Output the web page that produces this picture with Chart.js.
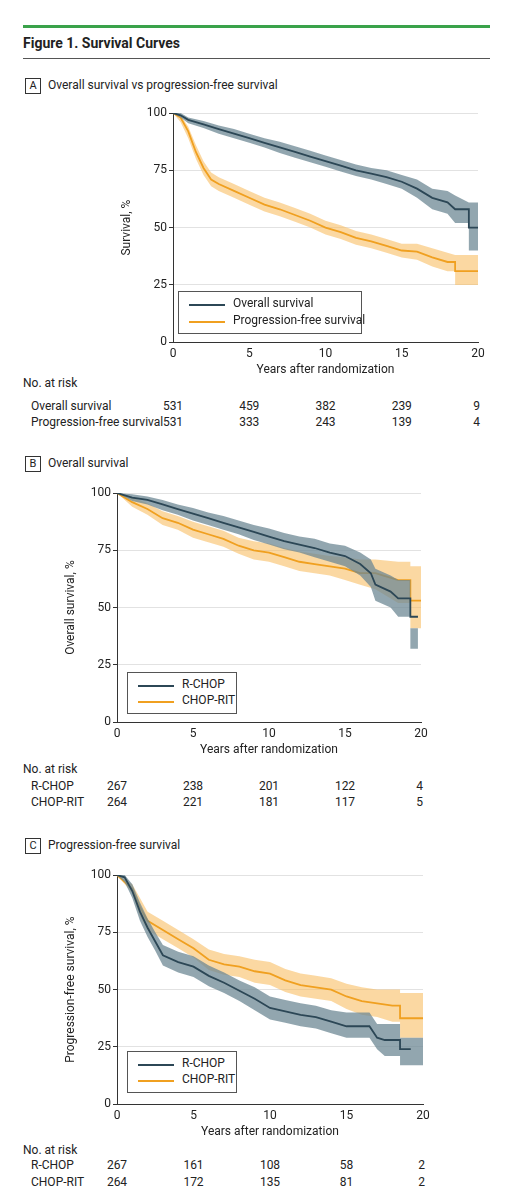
<!DOCTYPE html>
<html><head><meta charset="utf-8">
<script src="https://cdn.jsdelivr.net/npm/chart.js@4"></script>
<style>
body{margin:0;width:511px;height:1200px;background:#fff;font-family:Roboto,"Liberation Sans",sans-serif;color:#222;position:relative;font-size:12px}
.a{position:absolute;white-space:nowrap}
.lab{position:absolute;border:1px solid #333;width:14px;height:14px;text-align:center;line-height:14px;font-size:11px}
.leg{position:absolute;border:1px solid #555;background:#fff}
.leg div{position:absolute;font-size:12px;white-space:nowrap}
.leg span{position:absolute;width:36px;height:2px}
canvas{position:absolute}
.c{transform:translateX(-50%)}
</style></head><body>
<div class="a" style="left:23px;top:25px;width:467px;height:3px;background:#3aa24a"></div>
<div class="a" style="left:23px;top:35px;font-weight:bold;font-size:14px">Figure 1. Survival Curves</div>
<div class="a" style="left:23px;top:58px;width:467px;height:1px;background:#555"></div>

<div class="lab" style="left:25px;top:78px">A</div><div class="a" style="left:48px;top:78px">Overall survival vs progression-free survival</div>
<div class="lab" style="left:25px;top:456px">B</div><div class="a" style="left:48px;top:456px">Overall survival</div>
<div class="lab" style="left:25px;top:838px">C</div><div class="a" style="left:48px;top:838px">Progression-free survival</div>

<canvas id="cA" style="left:120px;top:100px"></canvas>
<canvas id="cB" style="left:64px;top:480px"></canvas>
<canvas id="cC" style="left:64px;top:862px"></canvas>

<div class="leg" style="left:178px;top:291px;width:182px;height:41px">
<span style="left:10px;top:12px;background:#2c4756"></span><div style="left:54px;top:4px">Overall survival</div>
<span style="left:10px;top:29px;background:#f0a020"></span><div style="left:54px;top:21px">Progression-free survival</div></div>
<div class="leg" style="left:127px;top:672px;width:108px;height:40px">
<span style="left:10px;top:12px;background:#2c4756"></span><div style="left:54px;top:4px">R-CHOP</div>
<span style="left:10px;top:28px;background:#f0a020"></span><div style="left:54px;top:20px">CHOP-RIT</div></div>
<div class="leg" style="left:127px;top:1051px;width:108px;height:40px">
<span style="left:10px;top:12px;background:#2c4756"></span><div style="left:54px;top:4px">R-CHOP</div>
<span style="left:10px;top:28px;background:#f0a020"></span><div style="left:54px;top:20px">CHOP-RIT</div></div>

<div id="risk"></div>
<script>
// Panel A
const tA1=[0,0.5,1,2,3,4,5,6,7,8,9,10,11,12,13,14,15,16,17,18,18.5,19.4,19.4,20];
const osA=[100,99,97,95,93,91,89,87,85,83,81,79,77,75,73.5,72,70,67,63,61,58,58,50,50];
const osAu=[100,100,98,96.5,94.5,93,91,89,87.5,85.5,83.5,81.5,79.5,77.5,76,75,73,71,67,66,64,61,61,61];
const osAl=[100,98,95.5,93.5,91,89,87,85,82.5,80.5,78.5,76.5,74.5,72.5,71,69,67,63,58,56,52,52,40,40];
const tA2=[0,0.5,1,1.5,2,2.5,3,4,5,6,7,8,9,10,11,12,13,14,15,16,17,18,18.5,18.5,20];
const pfsA=[100,98,92,83,76,71,69,66,63,60,58,55.5,53,50,48,45.5,44,42,40,39.5,37,35,35,31,31];
const pfsAu=[100,99,94,86,79,74,72,69,66,63,61,58.5,56,53,51,48.5,47,45,43,43,41,39,38,38,38];
const pfsAl=[100,96,89,80,73,68,66,63,60,57,55,52.5,50,47,45,42.5,41,39,37,36,33,31,31,25,25];
// Panel B
const tB1=[0,1,2,3,4,5,6,7,8,9,10,11,12,13,14,15,16,16.7,17,18,18.5,19.3,19.3,19.8];
const rchopB=[100,98,97,95,93,91,89,87,85,83,81,79,77.5,76,74,72.5,69,65,60,57,54,54,46,46];
const rchopBu=[100,99.5,98.5,97,95,93.5,91.5,90,88,86,84.5,82.5,81,80,78,77,74,71,67,64,62,62,41,41];
const rchopBl=[100,96.5,95,92.5,90.5,88,86,84,82,79.5,77.5,75.5,74,72,70,68,64,59,53,50,46,46,32,32];
const tB2=[0,1,2,3,4,5,6,7,8,9,10,11,12,13,14,15,16,17,18.5,19.3,19.3,20];
const ritB=[100,96,93,89,87,84,82,80,77,75,74,72,70,69,68,67,65,65,62,62,53,53];
const ritBu=[100,98,95.5,92,90,87.5,85.5,83.5,80.5,79,78,76,74.5,73.5,72.5,72,71,71,70,70,68,68];
const ritBl=[100,94,90.5,86,84,80.5,78.5,76.5,73.5,71,70,68,66,65,64,62,60,58,52,52,41,41];
// Panel C
const tC1=[0,0.5,1,1.5,2,2.5,3,4,5,6,7,8,9,10,11,12,13,14,15,16.5,17,17.5,18.5,18.5,19.2,20];
const rchopC=[100,99,93,84,77,71,65,62,60,56,53,49.5,46,42,40.5,39,38,36,34,34,29,28,28,24,24,null];
const rchopCu=[100,100,96,88,81,75,69.5,66.5,64.5,60.5,57.5,54,51,47,45.5,44,43,41,40,40,35,35,35,29,29,29];
const rchopCl=[100,97,90,80,73,67,60.5,57.5,55.5,51.5,48.5,45,41,37,35.5,34,33,31,29,29,24,21,21,17,17,17];
const tC2=[0,1,1.5,2,3,4,5,6,7,8,9,10,11,12,13,14,15,16,17,18,18.5,18.5,20];
const ritC=[100,94,86,80,76,72,68,63,61,60,58,57,54,52,51,50,47,45,44,43,43,37.5,37.5];
const ritCu=[100,96,90,84,80,76,72,67.5,65.5,64.5,63,62,59,57,56,55,52.5,51,50,50,50,48.5,48.5];
const ritCl=[100,92,82,76,72,68,64,58.5,56.5,55.5,53,52,49,47,46,45,41.5,39,38,36,36,29,29];
// risk tables
const tickYears=[0,5,10,15,20];
const riskA={"Overall survival":[531,459,382,239,9],"Progression-free survival":[531,333,243,139,4]};
const riskB={"R-CHOP":[267,238,201,122,4],"CHOP-RIT":[264,221,181,117,5]};
const riskC={"R-CHOP":[267,161,108,58,2],"CHOP-RIT":[264,172,135,81,2]};

const DK='#2c4756',DKB='rgba(110,136,148,0.75)',OR='#f0a020',ORB='rgba(248,190,100,0.6)';
const F={size:12,family:'Roboto'};
const z=(t,v)=>t.map((x,i)=>({x,y:v[i]}));
function ds(t,m,u,l,c,b){return [
 {data:z(t,m),borderColor:c,borderWidth:1.8,pointRadius:0,fill:false,spanGaps:false},
 {data:z(t,u),borderWidth:0,backgroundColor:b,pointRadius:0,fill:'+1'},
 {data:z(t,l),borderWidth:0,backgroundColor:b,pointRadius:0,fill:false}];}
function mk(id,w,h,yl,pads,sets,yTitle){
 const c=document.getElementById(id);c.width=w;c.height=h;c.style.width=w+'px';c.style.height=h+'px';
 return new Chart(c,{type:'line',data:{datasets:sets},options:{responsive:false,animation:false,
  layout:{padding:pads},plugins:{legend:{display:false},tooltip:{enabled:false}},
  scales:{x:{type:'linear',min:0,max:20,ticks:{stepSize:5,color:'#222',font:F,padding:1},
    grid:{display:false,drawTicks:true,tickLength:4},border:{color:'#333'},
    title:{display:true,text:'Years after randomization',color:'#222',font:F,padding:{top:0}}},
   y:{min:0,max:100,ticks:{stepSize:25,color:'#222',font:F,padding:2},
    grid:{color:'#e2e2e2',drawTicks:true,tickLength:4,tickColor:'#333'},border:{color:'#333'},
    afterFit:s=>{s.width=yl;},
    title:{display:true,text:yTitle,color:'#222',font:F,padding:0}}}}});
}
mk('cA',370,281,53,{top:13,right:12,left:0,bottom:0},[...ds(tA1,osA,osAu,osAl,DK,DKB),...ds(tA2,pfsA,pfsAu,pfsAl,OR,ORB)],'Survival, %');
mk('cB',370,281,53,{top:13,right:13,left:0,bottom:0},[...ds(tB1,rchopB,rchopBu,rchopBl,DK,DKB),...ds(tB2,ritB,ritBu,ritBl,OR,ORB)],'Overall survival, %');
mk('cC',370,281,53,{top:13,right:11,left:0,bottom:0},[...ds(tC1,rchopC,rchopCu,rchopCl,DK,DKB),...ds(tC2,ritC,ritCu,ritCl,OR,ORB)],'Progression-free survival, %');

let h='';
function tbl(r,x0,x1,hy,ys){
 h+=`<div class="a" style="left:23px;top:${hy}px">No. at risk</div>`;
 Object.keys(r).forEach((k,i)=>{
  h+=`<div class="a" style="left:31px;top:${ys[i]}px">${k}</div>`;
  r[k].forEach((v,j)=>{const x=x0+(x1-x0)*tickYears[j]/20;
   h+= j==4?`<div class="a" style="right:${511-x-2}px;top:${ys[i]}px">${v}</div>`:`<div class="a c" style="left:${x}px;top:${ys[i]}px">${v}</div>`;});
 });}
tbl(riskA,173,478,376,[399,415]);
tbl(riskB,117,421,762,[779,795]);
tbl(riskC,117,423,1143,[1158,1175]);
document.getElementById('risk').innerHTML=h;
</script></body></html>
